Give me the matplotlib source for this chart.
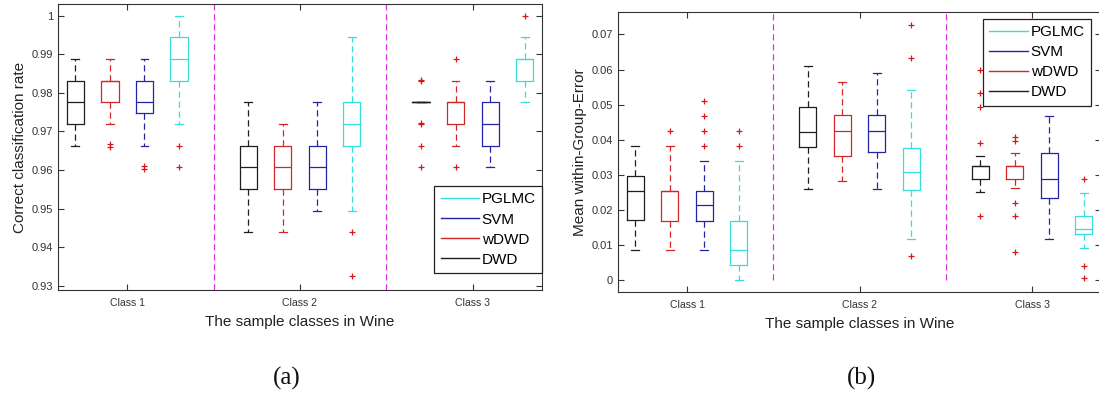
import numpy as np
import matplotlib
matplotlib.use("Agg")
import matplotlib.pyplot as plt
from matplotlib.lines import Line2D

plt.rcParams["font.family"] = ["Liberation Sans", "DejaVu Sans"]

classes = ["Class 1", "Class 2", "Class 3"]
methods = ["DWD", "wDWD", "SVM", "PGLMC"]
legend_order = ["PGLMC", "SVM", "wDWD", "DWD"]

# (a) correct classification rate, per class: [lower whisker, q1, median, q3, upper whisker]
rate_dwd = [[0.9663, 0.9719, 0.9775, 0.9831, 0.9888],
            [0.9438, 0.9551, 0.9607, 0.9663, 0.9775],
            [0.9775, 0.9775, 0.9775, 0.9775, 0.9775]]
rate_dwd_out = [[], [], [0.9833, 0.9830, 0.9721, 0.9718, 0.9663, 0.9607]]
rate_wdwd = [[0.9719, 0.9775, 0.9831, 0.9831, 0.9888],
             [0.9438, 0.9551, 0.9607, 0.9663, 0.9719],
             [0.9663, 0.9719, 0.9775, 0.9775, 0.9831]]
rate_wdwd_out = [[0.9666, 0.9660], [], [0.9888, 0.9607]]
rate_svm = [[0.9663, 0.9747, 0.9775, 0.9831, 0.9888],
            [0.9494, 0.9551, 0.9607, 0.9663, 0.9775],
            [0.9607, 0.9663, 0.9719, 0.9775, 0.9831]]
rate_svm_out = [[0.9609, 0.9603], [], []]
rate_pglmc = [[0.9719, 0.9831, 0.9888, 0.9944, 1.0],
              [0.9494, 0.9663, 0.9719, 0.9775, 0.9944],
              [0.9775, 0.9831, 0.9888, 0.9888, 0.9944]]
rate_pglmc_out = [[0.9663, 0.9607], [0.9438, 0.9326], [1.0]]

# (b) mean within-group error, same layout
err_dwd = [[0.0085, 0.0171, 0.0255, 0.0296, 0.0382],
           [0.0259, 0.0378, 0.0423, 0.0493, 0.0611],
           [0.0251, 0.0288, 0.0325, 0.0325, 0.0353]]
err_dwd_out = [[], [], [0.0598, 0.0534, 0.0494, 0.0390, 0.0182]]
err_wdwd = [[0.0087, 0.0169, 0.0255, 0.0255, 0.0382],
            [0.0282, 0.0353, 0.0425, 0.0470, 0.0565],
            [0.0262, 0.0288, 0.0325, 0.0325, 0.0363]]
err_wdwd_out = [[0.0425], [], [0.0408, 0.0396, 0.0220, 0.0182, 0.0081]]
err_svm = [[0.0087, 0.0169, 0.0214, 0.0255, 0.0339],
           [0.0259, 0.0365, 0.0425, 0.0470, 0.0589],
           [0.0118, 0.0235, 0.0287, 0.0363, 0.0468]]
err_svm_out = [[0.0382, 0.0425, 0.0467, 0.0510], [], []]
err_pglmc = [[0.0, 0.0043, 0.0087, 0.0169, 0.0339],
             [0.0118, 0.0258, 0.0307, 0.0377, 0.0541],
             [0.0091, 0.0131, 0.0145, 0.0182, 0.0248]]
err_pglmc_out = [[0.0382, 0.0425], [0.0728, 0.0634, 0.0070], [0.0288, 0.0040, 0.0006]]

rate_ticks = [0.93, 0.94, 0.95, 0.96, 0.97, 0.98, 0.99, 1.0]
rate_ticklabels = ["0.93", "0.94", "0.95", "0.96", "0.97", "0.98", "0.99", "1"]
err_ticks = [0, 0.01, 0.02, 0.03, 0.04, 0.05, 0.06, 0.07]
err_ticklabels = ["0", "0.01", "0.02", "0.03", "0.04", "0.05", "0.06", "0.07"]

COLORS = {"DWD": "#1e1e1e", "wDWD": "#d02828", "SVM": "#2424a8", "PGLMC": "#38dede"}
OFFSET = {"DWD": -0.3, "wDWD": -0.1, "SVM": 0.1, "PGLMC": 0.3}
AXC = "#333333"
FLIER = "#d81818"


def panel(ax, series, outs, ylim, ticks, ticklabels, ylabel, vline_from):
    xs = np.arange(1, len(classes) + 1)
    for m in methods:
        st = [dict(whislo=s[0], q1=s[1], med=s[2], q3=s[3], whishi=s[4], fliers=o)
              for s, o in zip(series[m], outs[m])]
        c = COLORS[m]
        ax.bxp(st, positions=xs + OFFSET[m], widths=0.1, capwidths=0.045, manage_ticks=False,
               boxprops=dict(color=c, lw=0.9), medianprops=dict(color=c, lw=0.9),
               whiskerprops=dict(color=c, lw=0.9, ls=(0, (5, 3))), capprops=dict(color=c, lw=0.9),
               flierprops=dict(marker="+", markeredgecolor=FLIER, markersize=5, mew=0.9, ls="none"))
    for xv in (1.5, 2.5):
        ax.plot([xv, xv], [vline_from, ylim[1]], ls=(0, (5, 3)), color="#dd33dd", lw=0.9)
    ax.set_xlim(0.6, 3.4); ax.set_ylim(*ylim)
    ax.set_xticks(xs); ax.set_xticklabels(classes, fontsize=7.6, color=AXC)
    ax.set_yticks(ticks); ax.set_yticklabels(ticklabels, fontsize=8, color=AXC)
    ax.tick_params(direction="in", top=True, right=True, length=4, width=0.8, color=AXC, pad=3.5)
    ax.tick_params(axis="x", pad=6)
    for sp in ax.spines.values():
        sp.set_color(AXC); sp.set_linewidth(0.8)
    ax.set_xlabel("The sample classes in Wine", fontsize=11, color="#222222", labelpad=5)
    ax.set_ylabel(ylabel, fontsize=11, color="#222222", labelpad=3)
    return [Line2D([], [], color=COLORS[m], lw=1.0) for m in legend_order]


def legend(ax, handles, **kw):
    leg = ax.legend(handles, legend_order, fontsize=11, handlelength=2.5, handletextpad=0.2,
                    labelspacing=0.4, borderpad=0.4, borderaxespad=0, fancybox=False,
                    framealpha=1, **kw)
    leg.get_frame().set_edgecolor("#222222"); leg.get_frame().set_linewidth(0.9)


fig = plt.figure(figsize=(10.99, 3.94), dpi=100)
ax1 = fig.add_axes([58/1099, 1 - 290/394, 484/1099, 286/394])
ax2 = fig.add_axes([618/1099, 1 - 292/394, 483/1099, 280/394])

h = panel(ax1, {"DWD": rate_dwd, "wDWD": rate_wdwd, "SVM": rate_svm, "PGLMC": rate_pglmc},
          {"DWD": rate_dwd_out, "wDWD": rate_wdwd_out, "SVM": rate_svm_out, "PGLMC": rate_pglmc_out},
          (0.9289, 1.003), rate_ticks, rate_ticklabels, "Correct classification rate", 0.9289)
legend(ax1, h, loc="lower right", bbox_to_anchor=(1.0, 0.06))

h = panel(ax2, {"DWD": err_dwd, "wDWD": err_wdwd, "SVM": err_svm, "PGLMC": err_pglmc},
          {"DWD": err_dwd_out, "wDWD": err_wdwd_out, "SVM": err_svm_out, "PGLMC": err_pglmc_out},
          (-0.0034, 0.0764), err_ticks, err_ticklabels, "Mean within-Group-Error", 0.0)
legend(ax2, h, loc="upper right", bbox_to_anchor=(0.979, 0.975))

for xc, lab in [(287, "(a)"), (862, "(b)")]:
    fig.text(xc/1099, 1 - 378/394, lab, ha="center", va="center", fontsize=18,
             family=["Liberation Serif", "DejaVu Serif"], color="#111111")

fig.savefig("out.png", dpi=100)
